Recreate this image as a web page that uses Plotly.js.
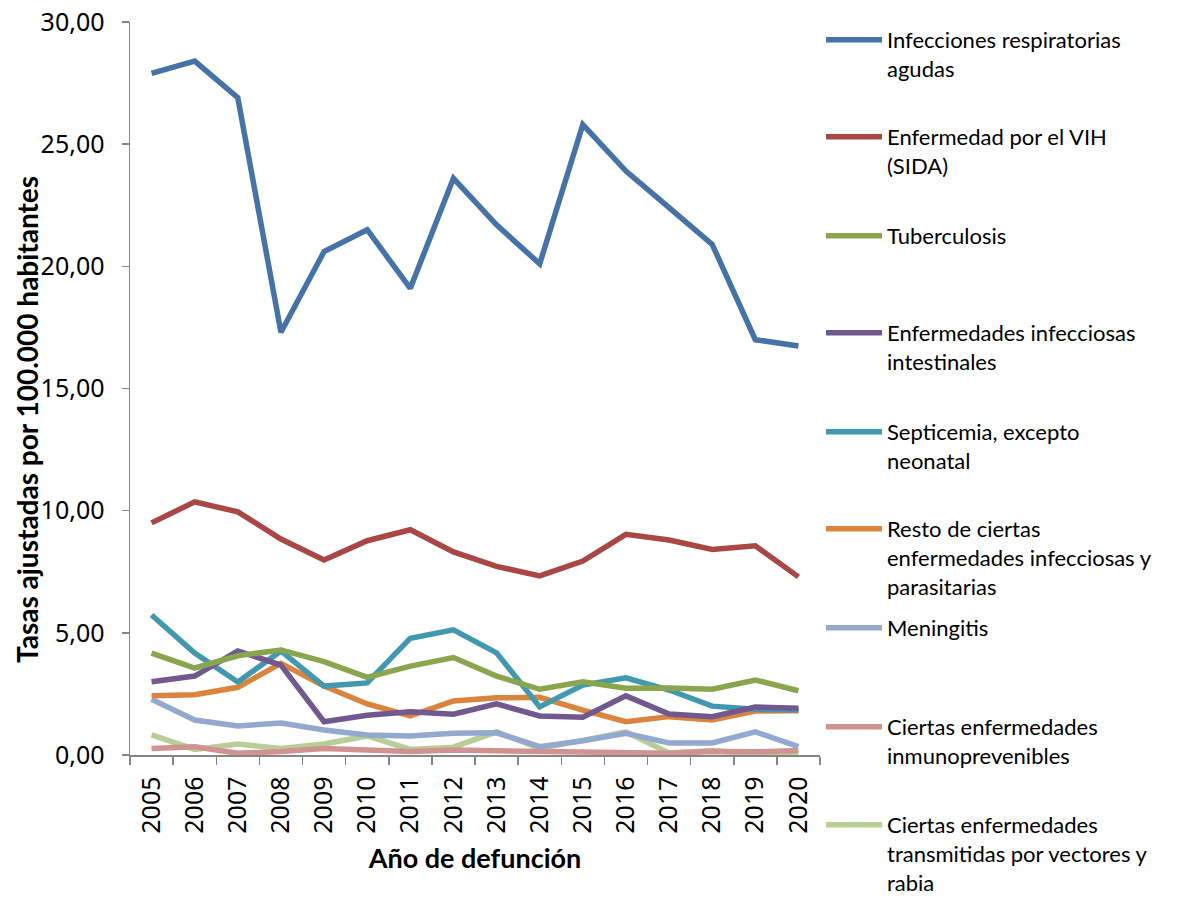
<!DOCTYPE html>
<html>
<head>
<meta charset="utf-8">
<script src="https://cdn.plot.ly/plotly-3.0.1.min.js"></script>
<style>html,body{margin:0;padding:0;background:#fff;}#chart{width:1191px;height:902px;}</style>
</head>
<body>
<div id="chart"></div>
<script>
const years = ['2005','2006','2007','2008','2009','2010','2011','2012','2013','2014','2015','2016','2017','2018','2019','2020'];

const infeccionesRespiratorias = [27.9, 28.4, 26.9, 17.3, 20.6, 21.5, 19.1, 23.6, 21.7, 20.1, 25.8, 23.9, 22.4, 20.9, 17.0, 16.74];
const vih = [9.5, 10.36, 9.95, 8.84, 7.98, 8.77, 9.22, 8.31, 7.72, 7.33, 7.94, 9.03, 8.8, 8.41, 8.56, 7.29];
const tuberculosis = [4.17, 3.56, 4.06, 4.3, 3.82, 3.18, 3.64, 3.99, 3.23, 2.69, 3.0, 2.73, 2.74, 2.69, 3.07, 2.63];
const intestinales = [3.0, 3.23, 4.26, 3.68, 1.36, 1.63, 1.77, 1.67, 2.09, 1.6, 1.55, 2.42, 1.68, 1.57, 1.96, 1.91];
const septicemia = [5.73, 4.17, 2.99, 4.26, 2.82, 2.95, 4.78, 5.12, 4.18, 1.97, 2.86, 3.16, 2.66, 2.0, 1.87, 1.84];
const restoInfecciosas = [2.42, 2.47, 2.77, 3.75, 2.82, 2.09, 1.6, 2.21, 2.34, 2.36, 1.84, 1.36, 1.57, 1.43, 1.8, 1.81];
const meningitis = [2.28, 1.43, 1.19, 1.31, 1.02, 0.82, 0.78, 0.89, 0.91, 0.34, 0.58, 0.89, 0.49, 0.49, 0.95, 0.34];
const inmunoprevenibles = [0.27, 0.34, 0.07, 0.14, 0.27, 0.18, 0.14, 0.2, 0.18, 0.14, 0.14, 0.13, 0.07, 0.14, 0.13, 0.18];
const vectores = [0.82, 0.23, 0.45, 0.27, 0.45, 0.78, 0.23, 0.32, 0.95, 0.27, 0.6, 0.95, 0.08, 0.18, 0.04, 0.04];

const seriesNames = [
  'Infecciones respiratorias<br>agudas',
  'Enfermedad por el VIH<br>(SIDA)',
  'Tuberculosis',
  'Enfermedades infecciosas<br>intestinales',
  'Septicemia, excepto<br>neonatal',
  'Resto de ciertas<br>enfermedades infecciosas y<br>parasitarias',
  'Meningitis',
  'Ciertas enfermedades<br>inmunoprevenibles',
  'Ciertas enfermedades<br>transmitidas por vectores y<br>rabia'
];
const seriesValues = [infeccionesRespiratorias, vih, tuberculosis, intestinales, septicemia, restoInfecciosas, meningitis, inmunoprevenibles, vectores];
const colors = ['#4572A7', '#AA4643', '#89A54E', '#71588F', '#4198AF', '#DB843D', '#93A9CF', '#D19392', '#B9CD96'];
const xTitle = 'Año de defunción';
const yTitle = 'Tasas ajustadas por 100.000 habitantes';

// legend first-line centres (px from top)
const legendCenters = [40, 137, 236, 333, 432, 529, 628, 727, 825];
const plotTop = 22, plotBottom = 755, plotLeft = 130, plotRight = 820;

const traces = [];
for (let i = seriesValues.length - 1; i >= 0; i--) {
  traces.push({
    x: years,
    y: seriesValues[i],
    name: seriesNames[i],
    type: 'scatter',
    mode: 'lines',
    line: {color: colors[i], width: 5.5},
    legend: i === 0 ? 'legend' : 'legend' + (i + 1),
    hoverinfo: 'x+y+name'
  });
}

const legendFont = {family: 'Lato, Calibri, sans-serif', size: 22, color: '#000'};
const titleFont = {family: 'Lato, Calibri, sans-serif', size: 27, color: '#000', weight: 'bold'};
const tickFont = {family: 'Noto Sans, sans-serif', size: 25, color: '#000'};
const plotW = plotRight - plotLeft, plotH = plotBottom - plotTop;
const layout = {
  width: 1191,
  height: 902,
  margin: {l: plotLeft, r: 1191 - plotRight, t: plotTop, b: 902 - plotBottom, pad: 0, autoexpand: false},
  paper_bgcolor: '#fff',
  plot_bgcolor: '#fff',
  separators: ',.',
  showlegend: true,
  xaxis: {
    type: 'category',
    range: [-0.5, 15.5],
    automargin: false,
    tickson: 'boundaries',
    ticks: 'outside',
    ticklen: 8,
    tickwidth: 1.5,
    tickcolor: '#868686',
    showline: true,
    linecolor: '#868686',
    linewidth: 1.5,
    showgrid: false,
    zeroline: false,
    tickangle: -90,
    ticklabelstandoff: 10,
    tickfont: tickFont,
    title: {text: xTitle, font: titleFont, standoff: 16}
  },
  yaxis: {
    range: [0, 30],
    automargin: false,
    dtick: 5,
    tick0: 0,
    tickformat: '.2f',
    ticks: 'outside',
    ticklen: 7,
    tickwidth: 1.5,
    tickcolor: '#868686',
    showline: true,
    linecolor: '#868686',
    linewidth: 1.5,
    showgrid: false,
    zeroline: false,
    ticklabelstandoff: 12,
    tickfont: tickFont
  },
  annotations: [{
    text: yTitle,
    xref: 'paper', yref: 'paper',
    x: (27 - plotLeft) / plotW,
    y: (plotBottom - 420) / plotH,
    xanchor: 'center', yanchor: 'middle',
    textangle: -90,
    showarrow: false,
    font: {family: 'Lato, Calibri, sans-serif', size: 28, color: '#000', weight: 'bold'}
  }]
};

for (let i = 0; i < seriesNames.length; i++) {
  const key = i === 0 ? 'legend' : 'legend' + (i + 1);
  const topPx = legendCenters[i] - 21;
  layout[key] = {
    x: 1 + 1 / plotW,
    xanchor: 'left',
    y: (plotBottom - topPx) / plotH,
    yanchor: 'top',
    valign: 'top',
    font: legendFont,
    bgcolor: 'rgba(0,0,0,0)',
    borderwidth: 0,
    itemwidth: 56,
    itemclick: false,
    itemdoubleclick: false
  };
}

Plotly.newPlot('chart', traces, layout, {displayModeBar: false, staticPlot: true});
</script>
</body>
</html>
